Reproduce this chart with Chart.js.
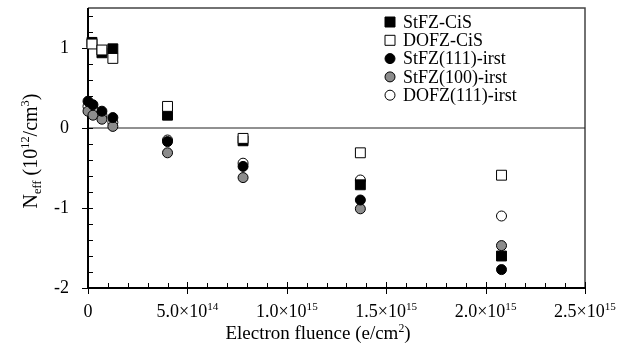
<!DOCTYPE html>
<html>
<head>
<meta charset="utf-8">
<script src="https://cdn.jsdelivr.net/npm/chart.js@4/dist/chart.umd.min.js"></script>
<style>
  html, body { margin: 0; padding: 0; background: #fff; }
</style>
</head>
<body>
<canvas id="chart" width="644" height="360"></canvas>
<script>
// Neff vs electron fluence, CiS and irst samples

// fluence values (e/cm^2)
const fluenceCiS = [2e13, 7e13, 1.25e14, 4e14, 7.8e14, 1.37e15, 2.08e15];
const fluenceIrst = [0, 2.5e13, 7e13, 1.25e14, 4e14, 7.8e14, 1.37e15, 2.08e15];

// Neff (10^12 / cm^3)
const stfzCiS = [1.07, 0.94, 0.99, 0.16, -0.16, -0.71, -1.60];
const dofzCiS = [1.05, 0.975, 0.87, 0.27, -0.13, -0.31, -0.59];
const stfz111 = [0.335, 0.29, 0.21, 0.13, -0.17, -0.48, -0.90, -1.77];
const stfz100 = [0.21, 0.16, 0.11, 0.02, -0.31, -0.62, -1.01, -1.47];
const dofz111 = [0.27, 0.24, 0.16, 0.07, -0.15, -0.44, -0.65, -1.10];

const seriesNames = ['StFZ-CiS', 'DOFZ-CiS', 'StFZ(111)-irst', 'StFZ(100)-irst', 'DOFZ(111)-irst'];

// axis ticks
const xTicks = [0, 5e14, 1e15, 1.5e15, 2e15, 2.5e15];
const xTickLabels = [['0', ''], ['5.0×10', '14'], ['1.0×10', '15'], ['1.5×10', '15'], ['2.0×10', '15'], ['2.5×10', '15']];
const yTicks = [-2, -1, 0, 1];
const yTickLabels = ['-2', '-1', '0', '1'];

const FONT = '"Liberation Serif", "Times New Roman", serif';
const GREY = '#8c8c8c';

function toPoints(xs, ys) {
  return ys.map((y, i) => ({ x: xs[i], y: y }));
}

// draw a run of text pieces, some of them super/subscript
function drawRich(ctx, parts, x, y, size, align) {
  const widths = parts.map(p => {
    ctx.font = (p.s ? size * 0.62 : size) + 'px ' + FONT;
    return ctx.measureText(p.t).width;
  });
  const total = widths.reduce((a, b) => a + b, 0);
  let cx = align === 'center' ? x - total / 2 : (align === 'right' ? x - total : x);
  ctx.textAlign = 'left';
  ctx.textBaseline = 'alphabetic';
  parts.forEach((p, i) => {
    ctx.font = (p.s ? size * 0.62 : size) + 'px ' + FONT;
    let dy = 0;
    if (p.s === 'sup') dy = -size * 0.38;
    if (p.s === 'sub') dy = size * 0.2;
    ctx.fillText(p.t, cx, y + dy);
    cx += widths[i];
  });
}

const axesPlugin = {
  id: 'axesPlugin',
  beforeDatasetsDraw(chart) {
    const ctx = chart.ctx;
    const a = chart.chartArea;
    const xs = chart.scales.x, ys = chart.scales.y;
    ctx.save();

    // frame top / right
    ctx.strokeStyle = '#444';
    ctx.lineWidth = 1.5;
    ctx.beginPath();
    ctx.moveTo(a.left, a.top);
    ctx.lineTo(a.right, a.top);
    ctx.lineTo(a.right, a.bottom);
    ctx.stroke();

    // zero line
    const y0 = ys.getPixelForValue(0);
    ctx.strokeStyle = '#222';
    ctx.lineWidth = 1;
    ctx.beginPath();
    ctx.moveTo(a.left, y0);
    ctx.lineTo(a.right, y0);
    ctx.stroke();

    // left and bottom axes
    ctx.strokeStyle = '#000';
    ctx.lineWidth = 2;
    ctx.beginPath();
    ctx.moveTo(a.left, a.top);
    ctx.lineTo(a.left, a.bottom);
    ctx.lineTo(a.right, a.bottom);
    ctx.stroke();

    // y ticks
    ctx.lineWidth = 1;
    for (let v = -2; v <= 1.41; v += 0.2) {
      const py = Math.round(ys.getPixelForValue(v)) + 0.5;
      const major = Math.abs(v - Math.round(v)) < 1e-6;
      ctx.beginPath();
      ctx.moveTo(major ? a.left - 6 : a.left, py);
      ctx.lineTo(a.left + 5, py);
      ctx.stroke();
    }
    // x ticks
    for (let v = 0; v <= 2.5e15 + 1; v += 1e14) {
      const px = Math.round(xs.getPixelForValue(v)) + 0.5;
      const major = Math.abs(v / 5e14 - Math.round(v / 5e14)) < 1e-6;
      ctx.beginPath();
      ctx.moveTo(px, a.bottom - (major ? 6 : 5));
      ctx.lineTo(px, a.bottom + (major ? 6 : 0));
      ctx.stroke();
    }

    // tick labels
    ctx.fillStyle = '#000';
    yTicks.forEach((v, i) => {
      ctx.font = '18px ' + FONT;
      ctx.textAlign = 'right';
      ctx.textBaseline = 'middle';
      ctx.fillText(yTickLabels[i], a.left - 19, ys.getPixelForValue(v));
    });
    xTicks.forEach((v, i) => {
      const lab = xTickLabels[i];
      drawRich(ctx, [{ t: lab[0] }, { t: lab[1], s: 'sup' }], xs.getPixelForValue(v), 317, 18, 'center');
    });

    // axis titles
    drawRich(ctx, [{ t: 'Electron fluence (e/cm' }, { t: '2', s: 'sup' }, { t: ')' }], 318, 339, 19, 'center');
    ctx.save();
    ctx.translate(37, 151);
    ctx.rotate(-Math.PI / 2);
    drawRich(ctx, [{ t: 'N' }, { t: 'eff', s: 'sub' }, { t: ' (10' }, { t: '12', s: 'sup' }, { t: '/cm' }, { t: '3', s: 'sup' }, { t: ')' }], 0, 0, 20, 'center');
    ctx.restore();

    ctx.restore();
  },
  afterDraw(chart) {
    // legend, inside the plot
    const ctx = chart.ctx;
    ctx.save();
    chart.data.datasets.forEach((ds, i) => {
      const my = 22 + i * 18.3;
      const mx = 390;
      ctx.fillStyle = ds.backgroundColor;
      ctx.strokeStyle = '#000';
      ctx.lineWidth = 1;
      ctx.beginPath();
      if (ds.pointStyle === 'rect') {
        ctx.rect(mx - 5, my - 5, 10, 10);
      } else {
        ctx.arc(mx, my, 5, 0, Math.PI * 2);
      }
      ctx.fill();
      ctx.stroke();
      ctx.fillStyle = '#000';
      ctx.font = '18px ' + FONT;
      ctx.textAlign = 'left';
      ctx.textBaseline = 'middle';
      ctx.fillText(ds.label, 403, my + 1);
    });
    ctx.restore();
  }
};

function makeSet(i, xs, ys, style, fill, order) {
  return {
    label: seriesNames[i],
    data: toPoints(xs, ys),
    pointStyle: style,
    pointRadius: style === 'rect' ? 7 : 5,
    backgroundColor: fill,
    borderColor: '#000',
    borderWidth: 1,
    showLine: false,
    clip: false,
    order: order
  };
}

new Chart(document.getElementById('chart').getContext('2d'), {
  type: 'scatter',
  data: {
    datasets: [
      makeSet(0, fluenceCiS, stfzCiS, 'rect', '#000', 1),
      makeSet(1, fluenceCiS, dofzCiS, 'rect', '#fff', 0),
      makeSet(2, fluenceIrst, stfz111, 'circle', '#000', 2),
      makeSet(3, fluenceIrst, stfz100, 'circle', GREY, 3),
      makeSet(4, fluenceIrst, dofz111, 'circle', '#fff', 4)
    ]
  },
  options: {
    responsive: false,
    animation: false,
    devicePixelRatio: 1,
    layout: { padding: { left: 88, right: 59, top: 2, bottom: 72 } },
    scales: {
      x: { type: 'linear', min: 0, max: 2.5e15, display: false },
      y: { type: 'linear', min: -2, max: 1.5, display: false }
    },
    plugins: {
      legend: { display: false },
      tooltip: { enabled: false }
    }
  },
  plugins: [axesPlugin]
});
</script>
</body>
</html>
